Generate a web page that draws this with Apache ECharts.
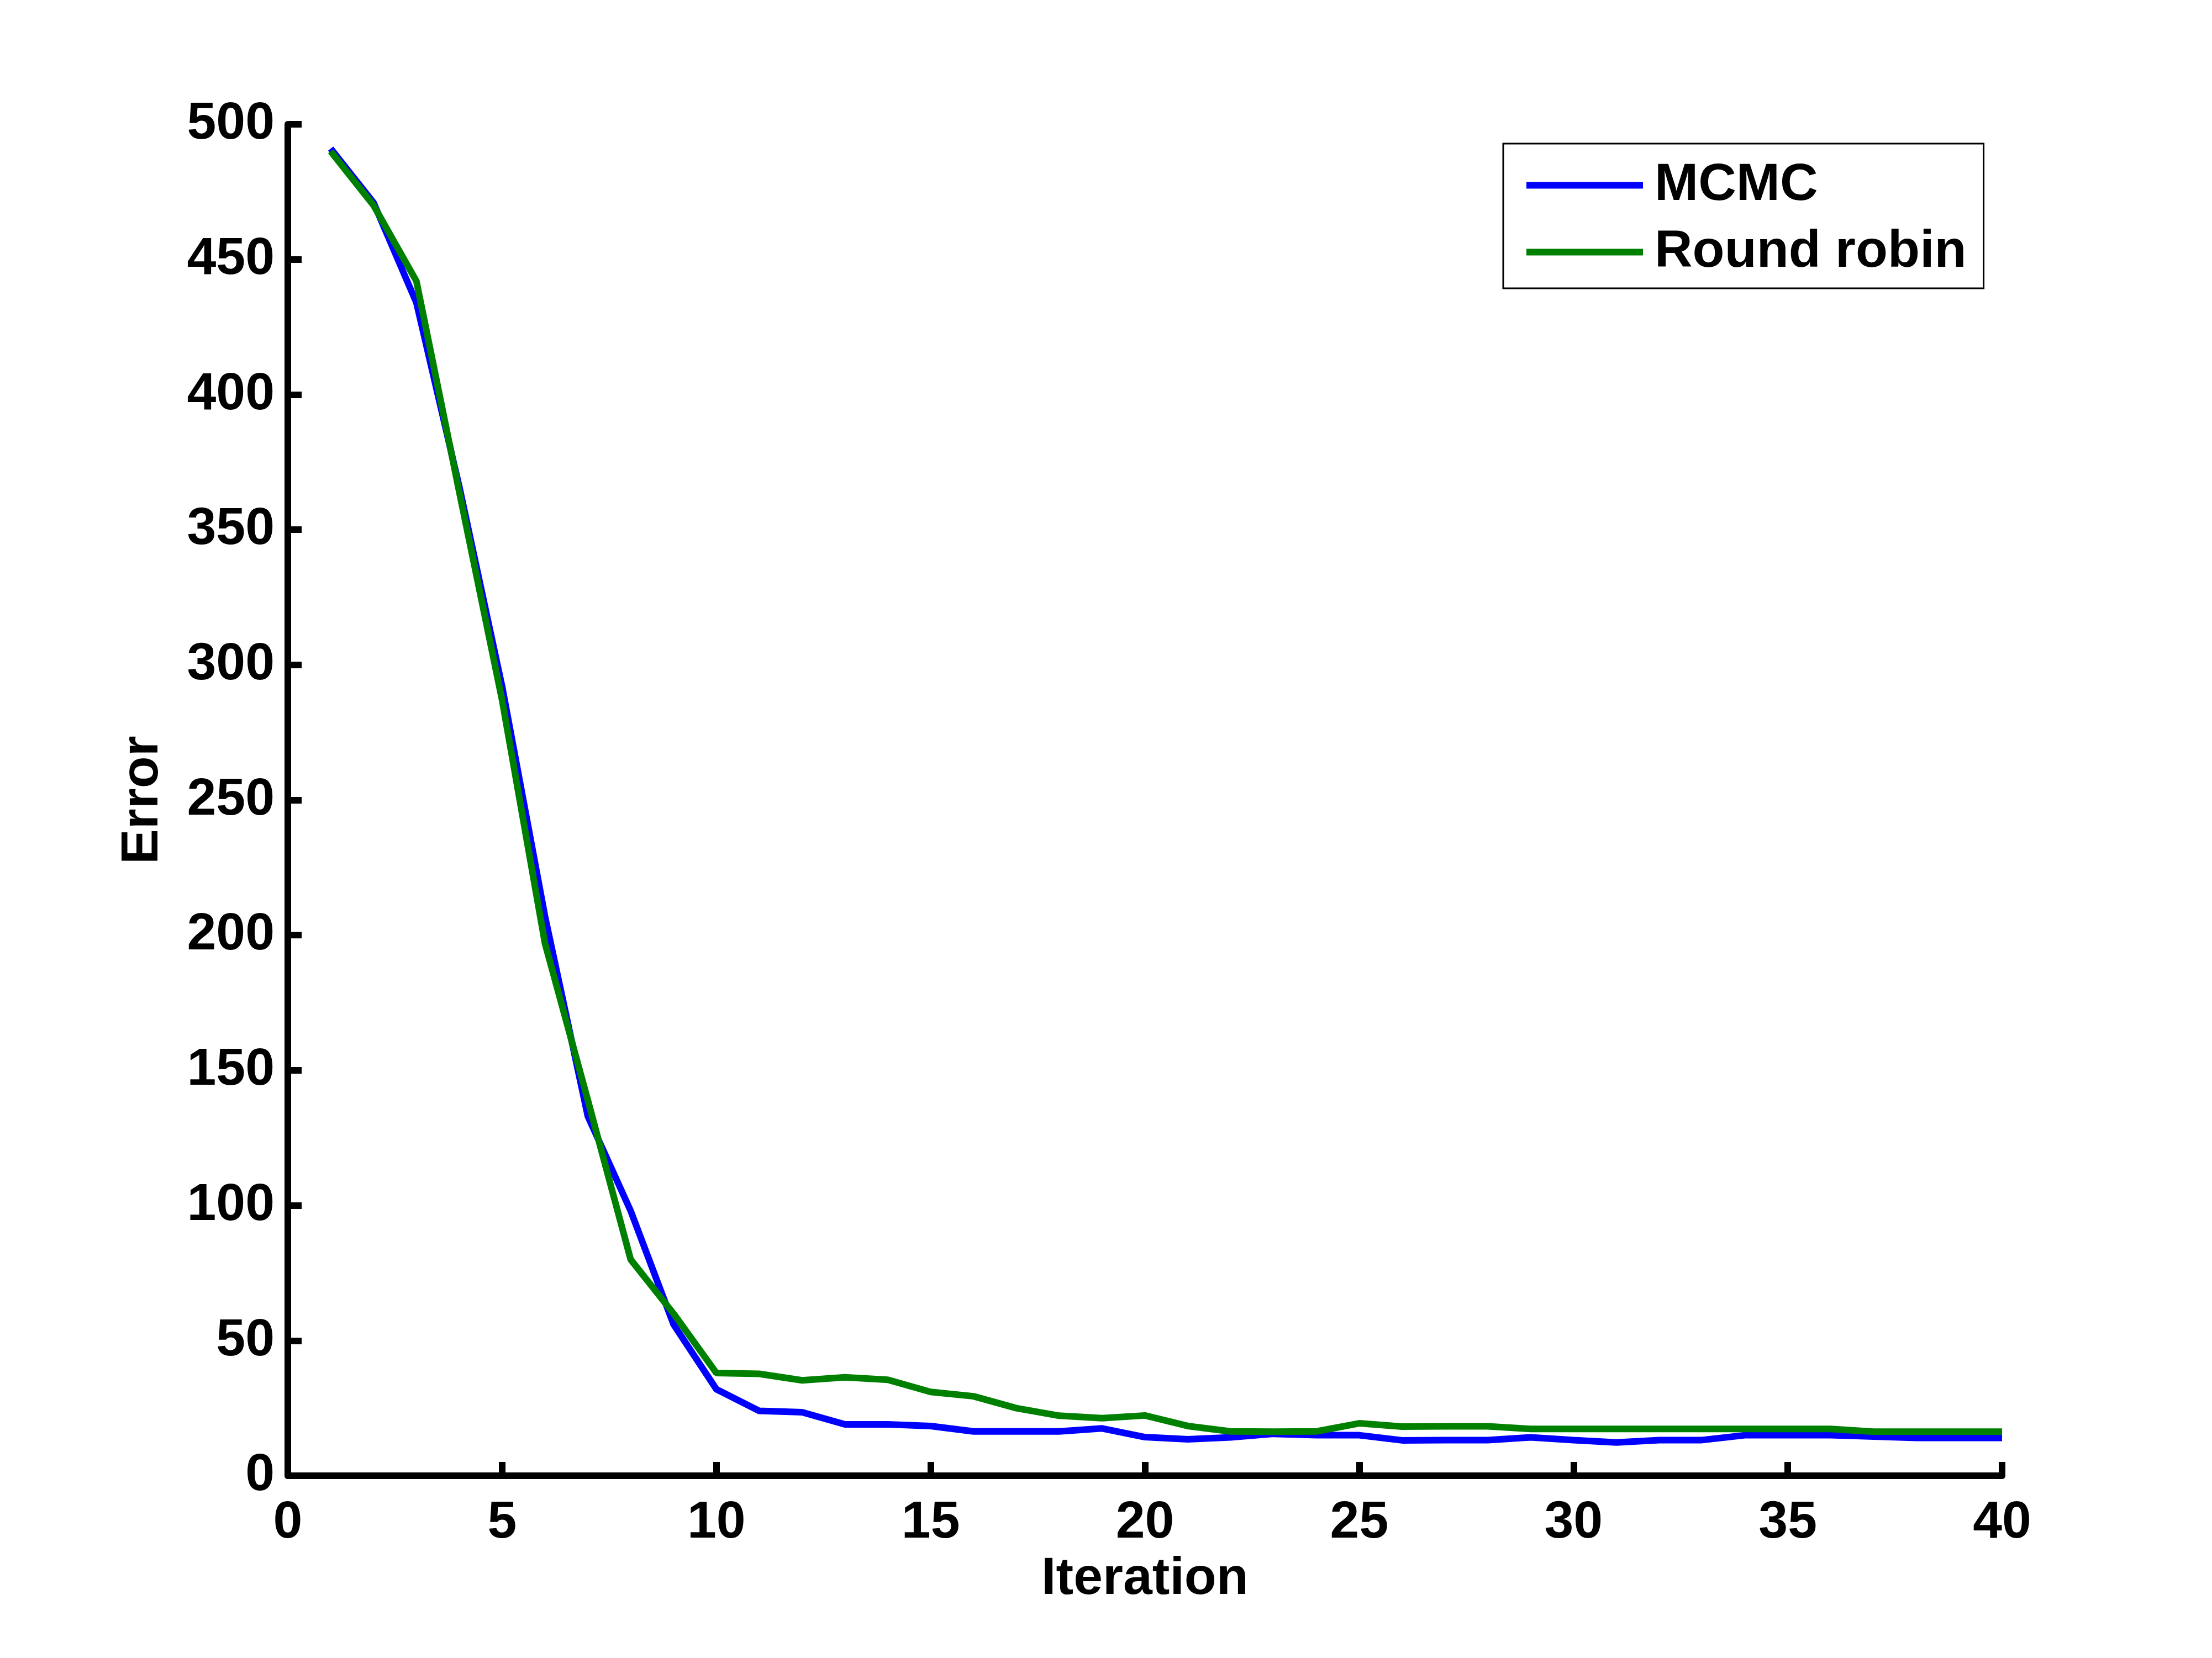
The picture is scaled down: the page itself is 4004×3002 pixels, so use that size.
<!DOCTYPE html>
<html>
<head>
<meta charset="utf-8">
<script src="https://cdn.jsdelivr.net/npm/echarts@6/dist/echarts.min.js"></script>
<style>
html,body{margin:0;padding:0;background:#fff;}
#chart{width:4004px;height:3002px;}
</style>
</head>
<body>
<div id="chart"></div>
<script>
const iterations = [1,2,3,4,5,6,7,8,9,10,11,12,13,14,15,16,17,18,19,20,21,22,23,24,25,26,27,28,29,30,31,32,33,34,35,36,37,38,39,40];
const mcmc = [491,471,434,366,292,207,133,98,56,32,24,23.5,19,19,18.4,16.4,16.4,16.4,17.5,14.3,13.5,14.2,15.5,15,15,13.1,13.2,13.2,14.2,13.2,12.3,13.2,13.2,15,15,15,14.5,14,14,14];
const roundRobin = [490,470,442,364,287,197,139,80,60,38,37.7,35.3,36.4,35.5,31,29.4,25,22.2,21.3,22.3,18.4,16.4,16.3,16.4,19.4,18.2,18.3,18.3,17.3,17.3,17.3,17.3,17.3,17.3,17.3,17.3,16.3,16.3,16.3,16.3];
const seriesNames = ['MCMC','Round robin'];
const xTicks = [0,5,10,15,20,25,30,35,40];
const yTicks = [0,50,100,150,200,250,300,350,400,450,500];

const FONT = 'Liberation Sans';
const chart = echarts.init(document.getElementById('chart'), null, {renderer:'canvas'});
const txt = {fontFamily: FONT, fontWeight: 'bold', color: '#000', fontSize: 95};

chart.setOption({
  backgroundColor: '#fff',
  animation: false,
  grid: {left: 521, right: 380, top: 225, bottom: 330, containLabel: false},
  legend: {
    orient: 'vertical',
    left: 2721, top: 260,
    padding: [28, 31, 18, 42],
    itemGap: 26,
    itemWidth: 211, itemHeight: 12,
    borderColor: '#000', borderWidth: 3,
    backgroundColor: '#fff',
    textStyle: Object.assign({}, txt, {padding: [0,0,0,16]}),
    data: seriesNames.map(n => ({name: n, icon: 'rect'}))
  },
  xAxis: {
    type: 'value', min: xTicks[0], max: xTicks[xTicks.length-1], interval: 5,
    name: 'Iteration', nameLocation: 'middle', nameGap: 140,
    nameTextStyle: txt,
    axisLine: {show: true, lineStyle: {color: '#000', width: 12}},
    axisTick: {show: true, inside: true, length: 25, lineStyle: {color: '#000', width: 12}},
    axisLabel: Object.assign({}, txt, {margin: 38}),
    splitLine: {show: false}
  },
  yAxis: {
    type: 'value', min: yTicks[0], max: yTicks[yTicks.length-1], interval: 50,
    name: 'Error', nameLocation: 'middle', nameGap: 215, nameRotate: 90,
    nameTextStyle: txt,
    axisLine: {show: true, lineStyle: {color: '#000', width: 12}},
    axisTick: {show: true, inside: true, length: 25, lineStyle: {color: '#000', width: 12}},
    axisLabel: Object.assign({}, txt, {margin: 24, padding: [6,0,0,0]}),
    splitLine: {show: false}
  },
  series: [
    {
      name: seriesNames[0], type: 'line', symbol: 'none',
      data: iterations.map((x,i) => [x, mcmc[i]]),
      lineStyle: {color: '#0000FF', width: 12},
      itemStyle: {color: '#0000FF'}
    },
    {
      name: seriesNames[1], type: 'line', symbol: 'none',
      data: iterations.map((x,i) => [x, roundRobin[i]]),
      lineStyle: {color: '#008000', width: 12},
      itemStyle: {color: '#008000'}
    }
  ]
});
</script>
</body>
</html>
